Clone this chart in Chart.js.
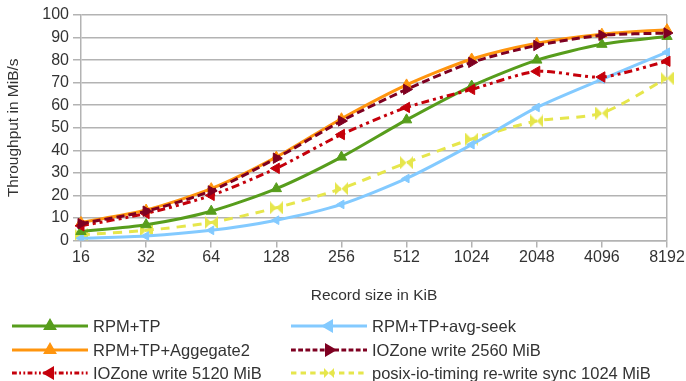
<!DOCTYPE html>
<html>
<head>
<meta charset="utf-8">
<script src="https://cdn.jsdelivr.net/npm/chart.js@4"></script>
<style>
  html, body { margin: 0; padding: 0; background: #fff; }
  #wrap { width: 686px; height: 381px; }
</style>
</head>
<body>
<div id="wrap"><canvas id="chart" width="686" height="381"></canvas></div>
<script>
// categories (record size in KiB)
const RECORD_SIZES = ['16', '32', '64', '128', '256', '512', '1024', '2048', '4096', '8192'];

// series values (MiB/s)
const RPM_TP        = [4, 7, 13, 23, 37, 53.5, 68.5, 80, 87, 90.5];
const RPM_TP_AGG2   = [8, 13.5, 23, 37, 54, 69, 80.5, 87.5, 91.5, 93.5];
const IOZONE_2560   = [7.5, 13, 22, 36.5, 53, 67, 79, 86.5, 91, 92];
const IOZONE_5120   = [6.5, 12, 20, 32, 47, 59, 67, 75, 72.5, 79.5];
const RPM_TP_SEEK   = [1, 2, 4.5, 9, 16, 27.5, 42.5, 59, 71.5, 83.5];
const POSIX_SYNC    = [2.5, 4.5, 8, 14.5, 23, 34.5, 45, 53, 56.5, 72];

// y axis ticks
const Y_MIN = 0, Y_MAX = 100, Y_STEP = 10;

const FONT_FAMILY = "'Liberation Sans', Arial, sans-serif";
const TEXT_COLOR = '#333333';
const GRID_COLOR = '#b3b3b3';

const PALETTE = {
    green: '#579d1c',
    orange: '#ff950e',
    darkRed: '#7e0021',
    red: '#c5000b',
    blue: '#83caff',
    yellow: '#e6e64c'
};

// bowtie marker for the posix series
function makeBowtie(color, size) {
    const c = document.createElement('canvas');
    c.width = size; c.height = size;
    const g = c.getContext('2d');
    g.fillStyle = color;
    g.beginPath();
    g.moveTo(0, 0); g.lineTo(size / 2, size / 2); g.lineTo(0, size); g.closePath();
    g.moveTo(size, 0); g.lineTo(size / 2, size / 2); g.lineTo(size, size); g.closePath();
    g.fill();
    return c;
}
const BOWTIE = makeBowtie(PALETTE.yellow, 13);
const BOWTIE_SMALL = makeBowtie(PALETTE.yellow, 10);

function series(label, data, color, opts) {
    return Object.assign({
        label: label,
        data: data,
        borderColor: color,
        backgroundColor: color,
        pointBackgroundColor: color,
        pointBorderColor: color,
        borderWidth: 3,
        pointRadius: 6,
        pointBorderWidth: 1,
        tension: 0.25,
        fill: false
    }, opts || {});
}

const datasets = [
    series('RPM+TP', RPM_TP, PALETTE.green, { pointStyle: 'triangle', order: 3 }),
    series('RPM+TP+Aggegate2', RPM_TP_AGG2, PALETTE.orange, { pointStyle: 'triangle', order: 4 }),
    series('IOZone write 2560 MiB', IOZONE_2560, PALETTE.darkRed, { pointStyle: 'triangle', rotation: 90, borderDash: [8, 4], order: 1 }),
    series('IOZone write 5120 MiB', IOZONE_5120, PALETTE.red, { pointStyle: 'triangle', rotation: -90, borderDash: [8, 4, 3, 4, 3, 4], order: 2 }),
    series('RPM+TP+avg-seek', RPM_TP_SEEK, PALETTE.blue, { pointStyle: 'triangle', rotation: -90, pointRadius: 5, order: 5 }),
    series('posix-io-timing re-write sync 1024 MiB', POSIX_SYNC, PALETTE.yellow, { pointStyle: BOWTIE, borderDash: [9, 7], order: 6 })
];

// legend: two columns, three rows (dataset index per slot)
const LEGEND_SLOTS = [
    { ds: 0, col: 0, row: 0 }, { ds: 4, col: 1, row: 0 },
    { ds: 1, col: 0, row: 1 }, { ds: 2, col: 1, row: 1 },
    { ds: 3, col: 0, row: 2 }, { ds: 5, col: 1, row: 2 }
];

const legendPlugin = {
    id: 'twoColLegend',
    afterDraw(chart) {
        const ctx = chart.ctx;
        const colX = [12, 291];
        const rowY = [326, 350, 373];
        const lineLen = 76;
        LEGEND_SLOTS.forEach(slot => {
            const ds = chart.data.datasets[slot.ds];
            const x0 = colX[slot.col];
            const y = rowY[slot.row];
            ctx.save();
            ctx.strokeStyle = ds.borderColor;
            ctx.lineWidth = 3;
            ctx.setLineDash(ds.borderDash ? ds.borderDash.map(v => v * 0.6) : []);
            ctx.beginPath();
            ctx.moveTo(x0, y);
            ctx.lineTo(x0 + lineLen, y);
            ctx.stroke();
            ctx.setLineDash([]);
            ctx.fillStyle = ds.borderColor;
            ctx.strokeStyle = ds.borderColor;
            const style = ds.pointStyle === BOWTIE ? BOWTIE_SMALL : ds.pointStyle;
            Chart.helpers.drawPoint(ctx, {
                pointStyle: style,
                rotation: ds.rotation || 0,
                radius: 5,
                borderWidth: 1
            }, x0 + lineLen / 2, y);
            ctx.fillStyle = TEXT_COLOR;
            ctx.font = '16.5px ' + FONT_FAMILY;
            ctx.textBaseline = 'middle';
            ctx.textAlign = 'left';
            ctx.fillText(ds.label, x0 + lineLen + 5, y + 1);
            ctx.restore();
        });
    }
};

new Chart(document.getElementById('chart'), {
    type: 'line',
    data: { labels: RECORD_SIZES, datasets: datasets },
    options: {
        responsive: false,
        animation: false,
        layout: { padding: { left: 0, right: 19, top: 15, bottom: 76 } },
        plugins: {
            legend: { display: false },
            tooltip: { enabled: false }
        },
        scales: {
            x: {
                type: 'category',
                offset: false,
                afterFit(scale) { scale.height = 64.5; },
                grid: {
                    drawOnChartArea: true,
                    color: c => (c.index === RECORD_SIZES.length - 1 ? GRID_COLOR : 'rgba(0,0,0,0)'),
                    tickColor: GRID_COLOR,
                    tickLength: 7,
                    lineWidth: 1.5
                },
                border: { color: GRID_COLOR, width: 1.5 },
                ticks: { color: TEXT_COLOR, font: { family: FONT_FAMILY, size: 16 }, padding: 0, maxRotation: 0 },
                title: { display: true, text: 'Record size in KiB', color: TEXT_COLOR, font: { family: FONT_FAMILY, size: 15.5 }, padding: { top: 4, bottom: 0 } }
            },
            y: {
                min: Y_MIN,
                max: Y_MAX,
                afterFit(scale) { scale.width = 81; },
                grid: { color: GRID_COLOR, tickColor: GRID_COLOR, tickLength: 8, lineWidth: 1.5 },
                border: { color: GRID_COLOR, width: 1.5 },
                ticks: { stepSize: Y_STEP, color: TEXT_COLOR, font: { family: FONT_FAMILY, size: 16 }, padding: 4 },
                title: { display: true, text: 'Throughput in MiB/s', color: TEXT_COLOR, font: { family: FONT_FAMILY, size: 15.5 }, padding: { top: 4, bottom: 0 } }
            }
        }
    },
    plugins: [legendPlugin]
});
</script>
</body>
</html>
